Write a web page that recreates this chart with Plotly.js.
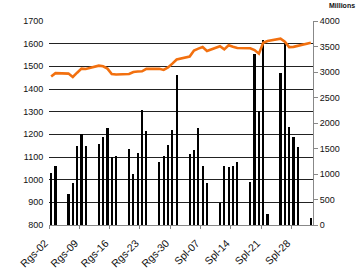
<!DOCTYPE html>
<html>
<head>
<meta charset="utf-8">
<script src="https://cdn.plot.ly/plotly-3.0.1.min.js"></script>
<style>html,body{margin:0;padding:0;background:#fff;}#chart{width:359px;height:275px;}</style>
</head>
<body>
<div id="chart"></div>
<script>
var dates = ["2007-08-02","2007-08-03","2007-08-06","2007-08-07","2007-08-08","2007-08-09","2007-08-10",
"2007-08-13","2007-08-14","2007-08-15","2007-08-16","2007-08-17","2007-08-20","2007-08-21","2007-08-22",
"2007-08-23","2007-08-24","2007-08-27","2007-08-28","2007-08-29","2007-08-30","2007-08-31","2007-09-03",
"2007-09-04","2007-09-05","2007-09-06","2007-09-07","2007-09-10","2007-09-11","2007-09-12","2007-09-13",
"2007-09-14","2007-09-17","2007-09-18","2007-09-19","2007-09-20","2007-09-21","2007-09-24","2007-09-25",
"2007-09-26","2007-09-27","2007-09-28","2007-10-01"];
var volume = [1010,1160,600,820,1555,1785,1555,1595,1730,1905,1340,1350,1490,1000,1410,2255,1845,
1240,1345,1575,1855,2940,1390,1480,1910,1160,815,425,1165,1130,1165,1245,850,3350,2235,3625,210,
2975,3560,1930,1725,1535,130];
var index = [1455,1470,1468,1453,1472,1490,1488,1503,1500,1490,1466,1464,1466,1475,1477,1478,1489,
1489,1484,1495,1512,1530,1543,1570,1578,1585,1568,1589,1575,1593,1586,1581,1580,1572,1556,1604,1612,
1622,1609,1585,1586,1590,1604];
var tickDates = ["2007-08-02","2007-08-09","2007-08-16","2007-08-23","2007-08-30","2007-09-06","2007-09-13","2007-09-20","2007-09-27"];
var tickLabels = ["Rgs-02","Rgs-09","Rgs-16","Rgs-23","Rgs-30","Spl-07","Spl-14","Spl-21","Spl-28"];
var DAY = 86400000;

var font = {family: "Liberation Sans, Arial, sans-serif", size: 9, color: "#111"};
var xfont = {family: "Liberation Sans, Arial, sans-serif", size: 10.5, color: "#111"};

var traces = [
  {type: "bar", x: dates, y: volume, xaxis: "x", yaxis: "y",
   xperiod: DAY, xperiodalignment: "middle", width: 0.5 * DAY,
   marker: {color: "#000", line: {width: 0}}, hoverinfo: "skip"},
  {type: "scatter", mode: "lines", x: dates, y: index, xaxis: "x", yaxis: "y2",
   xperiod: DAY, xperiodalignment: "middle",
   line: {color: "#f2700f", width: 2.6}, hoverinfo: "skip"}
];

var layout = {
  width: 359, height: 275,
  margin: {l: 49, r: 46, t: 21, b: 50, pad: 0},
  paper_bgcolor: "#fff", plot_bgcolor: "#fff",
  showlegend: false, bargap: 0,
  font: font,
  xaxis: {type: "date", range: ["2007-08-02", "2007-10-02"],
          tickvals: tickDates, ticktext: tickLabels, tickangle: -45,
          ticklabelstandoff: 4, ticklabelshift: -4,
          showgrid: false, zeroline: false, showline: true, linecolor: "#888", linewidth: 1,
          ticks: "outside", ticklen: 3, tickcolor: "#888", tickfont: xfont},
  yaxis: {side: "right", range: [0, 4000], dtick: 500, showgrid: false, zeroline: false,
          showline: true, linecolor: "#888", linewidth: 1, ticks: "outside", ticklen: 4,
          tickcolor: "#888", tickfont: font},
  yaxis2: {overlaying: "y", side: "left", range: [800, 1700], dtick: 100,
           showgrid: true, gridcolor: "#222", gridwidth: 1, zeroline: false, showline: false,
           ticks: "outside", ticklen: 3, tickcolor: "rgba(0,0,0,0)", tickfont: font},
  annotations: [{text: "<b>Millions</b>", xref: "paper", yref: "paper", x: 1.11, y: 1.0,
                 yshift: 10, xanchor: "center", yanchor: "bottom", showarrow: false,
                 font: {family: "Liberation Sans, Arial, sans-serif", size: 7, color: "#111"}}]
};

Plotly.newPlot("chart", traces, layout, {staticPlot: true, displayModeBar: false});
</script>
</body>
</html>
